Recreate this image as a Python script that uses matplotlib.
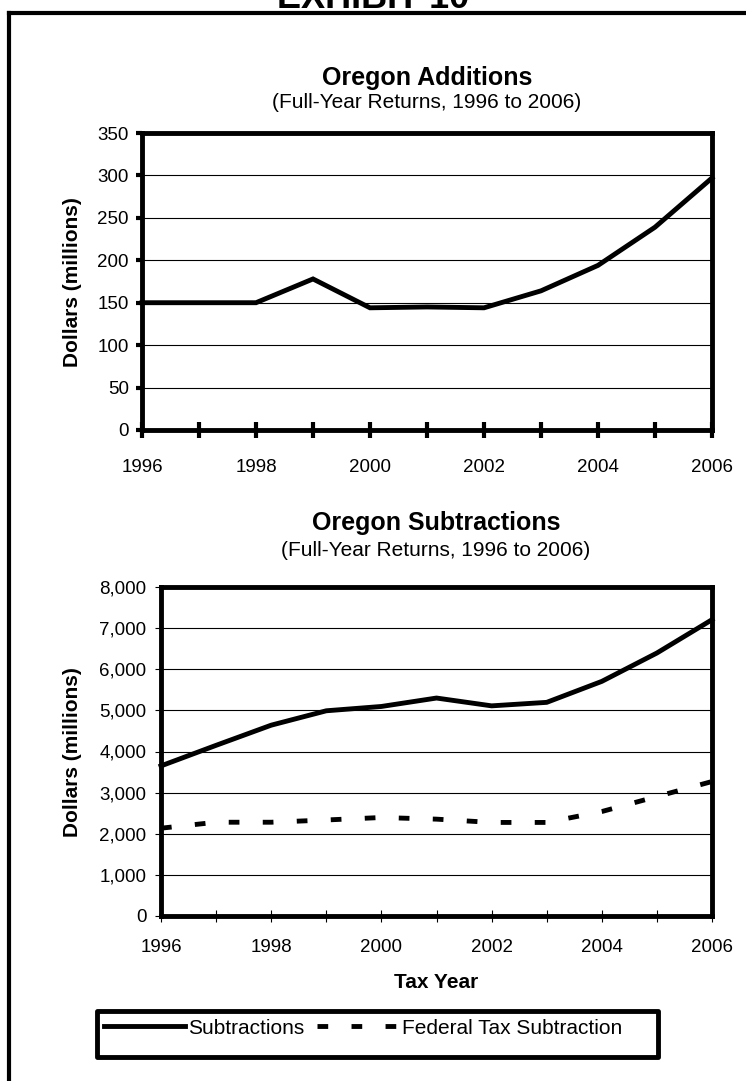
import matplotlib
matplotlib.use('Agg')

import matplotlib.pyplot as plt
from matplotlib.lines import Line2D
from matplotlib.patches import Rectangle

years = [1996, 1997, 1998, 1999, 2000, 2001, 2002, 2003, 2004, 2005, 2006]
year_labels = ['1996', '', '1998', '', '2000', '', '2002', '', '2004', '', '2006']

additions = [150, 150, 150, 178, 144, 145, 144, 164, 194, 239, 297]
add_ticks = [0, 50, 100, 150, 200, 250, 300, 350]

subtractions = [3650, 4150, 4640, 4990, 5095, 5300, 5110, 5195, 5705, 6395, 7205]
federal = [2135, 2280, 2280, 2335, 2395, 2355, 2275, 2275, 2540, 2905, 3270]
sub_ticks = [0, 1000, 2000, 3000, 4000, 5000, 6000, 7000, 8000]

W, H = 746, 1081
SANS = ['Liberation Sans', 'DejaVu Sans']

plt.rcParams['font.family'] = SANS


def fx(px):
    return px / W


def fy(py):
    return 1 - py / H


def axes_box(left, top, right, bottom):
    return [fx(left), fy(bottom), (right - left) / W, (bottom - top) / H]


fig = plt.figure(figsize=(W / 100, H / 100), dpi=100)

# outer exhibit frame (only top/left are inside the page crop)
fig.add_artist(Line2D([fx(9), fx(9)], [fy(13), -0.1], color='black', lw=3))
fig.add_artist(Line2D([fx(9), 1.1], [fy(13), fy(13)], color='black', lw=3))
fig.text(0.5, fy(8), 'EXHIBIT 10', ha='center', va='baseline',
         fontsize=26, fontweight='bold')


def style_axes(ax, ticks, tick_fmt, thick_ticks):
    ax.set_xlim(years[0], years[-1])
    ax.set_ylim(ticks[0], ticks[-1])
    ax.set_yticks(ticks)
    ax.set_yticklabels([tick_fmt(t) for t in ticks], fontsize=13.5)
    ax.set_xticks(years)
    ax.set_xticklabels(year_labels, fontsize=13.5)
    for s in ax.spines.values():
        s.set_linewidth(3.5)
        s.set_capstyle('projecting')
    ax.grid(axis='y', color='black', lw=0.8)
    ax.set_axisbelow(True)
    if thick_ticks:
        ax.tick_params(axis='x', direction='inout', length=12, width=3, pad=15)
        ax.tick_params(axis='y', direction='out', length=4.5, width=3, pad=5)
    else:
        ax.tick_params(axis='x', direction='inout', length=9, width=0.8, pad=12)
        ax.tick_params(axis='y', direction='out', length=4.5, width=0.8, pad=6)


# ---- Oregon Additions ----
ax1 = fig.add_axes(axes_box(142, 133, 712, 430))
ax1.plot(years, additions, color='black', lw=3.5, solid_joinstyle='miter',
         clip_on=False)
style_axes(ax1, add_ticks, lambda t: f'{t}', True)
fig.text(fx(427), fy(78), 'Oregon Additions', ha='center', va='center',
         fontsize=18, fontweight='bold')
fig.text(fx(427), fy(103), '(Full-Year Returns, 1996 to 2006)', ha='center',
         va='center', fontsize=15)
fig.text(fx(72), fy(282), 'Dollars (millions)', ha='center', va='center',
         rotation=90, fontsize=15, fontweight='bold')

# ---- Oregon Subtractions ----
ax2 = fig.add_axes(axes_box(161, 587, 712, 916))
ax2.plot(years, subtractions, color='black', lw=3.5, clip_on=False,
         label='Subtractions')
ax2.plot(years, federal, color='black', lw=3.5, linestyle=(0, (2.2, 4.8)),
         dash_capstyle='butt', label='Federal Tax Subtraction')
style_axes(ax2, sub_ticks, lambda t: f'{t:,}', False)
fig.text(fx(436), fy(523), 'Oregon Subtractions', ha='center', va='center',
         fontsize=18, fontweight='bold')
fig.text(fx(436), fy(551), '(Full-Year Returns, 1996 to 2006)', ha='center',
         va='center', fontsize=15)
fig.text(fx(72), fy(752), 'Dollars (millions)', ha='center', va='center',
         rotation=90, fontsize=15, fontweight='bold')
fig.text(fx(436), fy(982), 'Tax Year', ha='center', va='center',
         fontsize=15, fontweight='bold')

# legend box
fig.add_artist(Rectangle((fx(97), fy(1057)), (658 - 97) / W, (1057 - 1011) / H,
                         transform=fig.transFigure, fill=False,
                         edgecolor='black', lw=3.5, joinstyle='round'))
handles, labels = ax2.get_legend_handles_labels()
fig.legend(handles, labels, loc='center left',
           bbox_to_anchor=(fx(104), fy(1028)), ncol=2, frameon=False,
           fontsize=15, handlelength=3.9, handletextpad=0.15,
           columnspacing=0.6, borderpad=0, borderaxespad=0)

fig.savefig('out.png', dpi=100)
